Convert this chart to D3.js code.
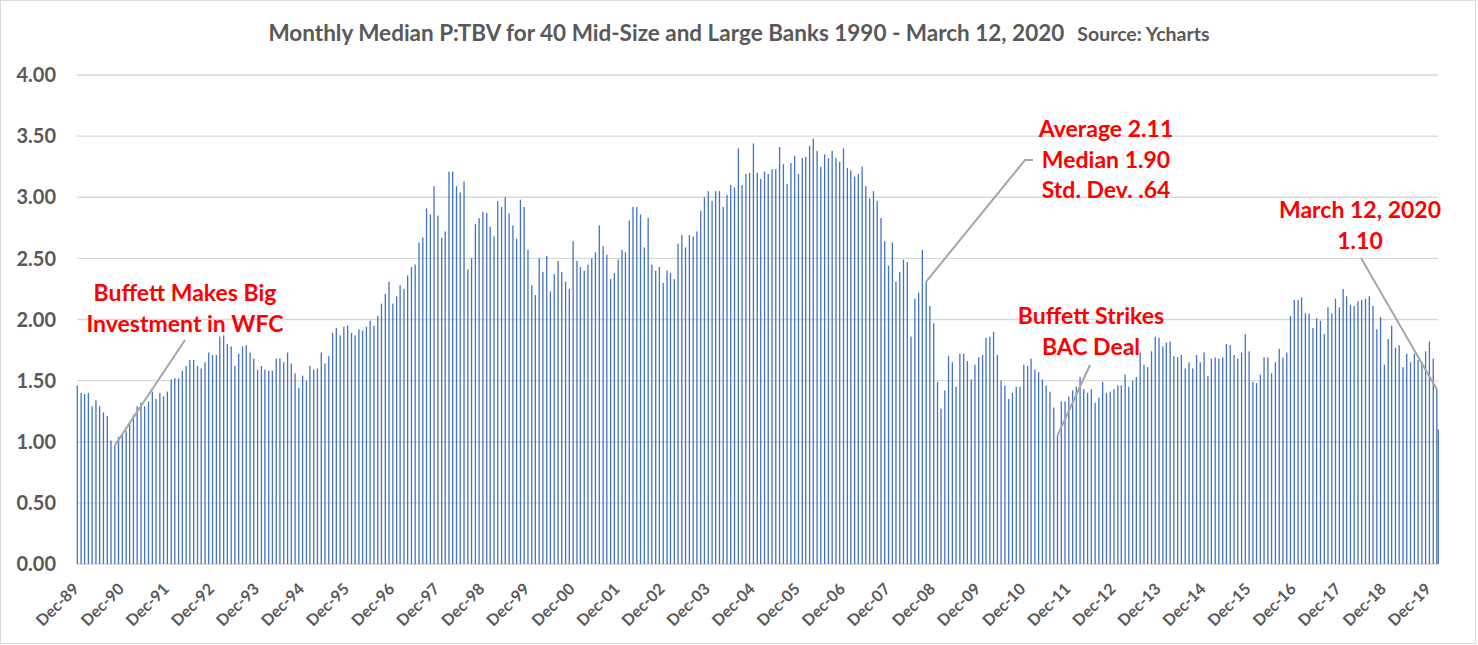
<!DOCTYPE html>
<html>
<head>
<meta charset="utf-8">
<script src="https://cdnjs.cloudflare.com/ajax/libs/d3/7.8.5/d3.min.js"></script>
<style>
  body { margin: 0; background: #fff; }
  text { font-family: Lato, "Noto Sans", sans-serif; }
</style>
</head>
<body>
<script>
// monthly median P:TBV, one value per month-end from Dec-89, last point is March 12, 2020
var values = [
  1.46,1.40,1.39,1.40,1.29,1.34,1.29,1.24,1.21,1.01,0.97,1.04,
  1.06,1.09,1.16,1.22,1.29,1.32,1.29,1.33,1.41,1.35,1.40,1.37,
  1.41,1.51,1.52,1.52,1.58,1.62,1.67,1.67,1.62,1.60,1.65,1.73,
  1.71,1.71,1.86,1.87,1.80,1.78,1.62,1.72,1.78,1.79,1.73,1.68,
  1.59,1.62,1.59,1.58,1.58,1.68,1.68,1.65,1.73,1.64,1.56,1.44,
  1.54,1.50,1.62,1.59,1.60,1.73,1.64,1.70,1.89,1.93,1.87,1.94,
  1.95,1.89,1.87,1.92,1.91,1.94,1.99,1.95,2.03,2.13,2.21,2.31,
  2.13,2.19,2.28,2.25,2.36,2.43,2.45,2.63,2.67,2.91,2.86,3.09,
  2.85,2.67,2.72,3.21,3.21,3.09,3.04,3.13,2.41,2.50,2.78,2.83,
  2.88,2.87,2.76,2.68,2.97,2.92,3.00,2.87,2.77,2.66,2.98,2.92,
  2.57,2.28,2.20,2.50,2.39,2.52,2.23,2.37,2.48,2.39,2.31,2.25,
  2.64,2.48,2.43,2.40,2.45,2.50,2.55,2.77,2.60,2.53,2.33,2.38,
  2.49,2.57,2.55,2.81,2.92,2.92,2.86,2.59,2.83,2.45,2.40,2.43,
  2.30,2.40,2.38,2.33,2.62,2.69,2.59,2.69,2.68,2.72,2.89,3.00,
  3.05,2.97,3.05,3.05,2.92,3.02,3.10,3.08,3.40,3.10,3.19,3.20,
  3.44,3.20,3.15,3.21,3.19,3.23,3.23,3.41,3.27,3.11,3.28,3.34,
  3.19,3.32,3.33,3.42,3.48,3.38,3.25,3.35,3.32,3.38,3.32,3.29,
  3.40,3.24,3.22,3.17,3.19,3.25,3.09,2.99,3.05,2.97,2.83,2.64,
  2.44,2.63,2.31,2.39,2.49,2.47,1.86,2.17,2.22,2.57,2.31,2.11,
  1.97,1.49,1.27,1.42,1.70,1.65,1.45,1.72,1.72,1.66,1.51,1.63,
  1.69,1.71,1.85,1.86,1.90,1.71,1.50,1.46,1.35,1.40,1.45,1.45,
  1.63,1.62,1.68,1.59,1.57,1.51,1.46,1.41,1.28,1.05,1.33,1.33,
  1.37,1.42,1.45,1.53,1.43,1.40,1.43,1.32,1.36,1.49,1.40,1.41,
  1.43,1.46,1.46,1.55,1.45,1.50,1.53,1.73,1.63,1.61,1.74,1.86,
  1.85,1.78,1.81,1.82,1.70,1.69,1.71,1.60,1.65,1.60,1.71,1.65,
  1.73,1.54,1.68,1.69,1.68,1.69,1.80,1.79,1.71,1.68,1.73,1.88,
  1.74,1.49,1.48,1.55,1.69,1.69,1.56,1.65,1.76,1.69,1.73,2.03,
  2.16,2.16,2.18,2.05,2.05,1.93,2.01,1.99,1.88,2.10,2.05,2.17,
  2.10,2.25,2.19,2.12,2.11,2.15,2.16,2.17,2.19,2.11,1.92,2.02,
  1.63,1.84,1.95,1.77,1.79,1.61,1.72,1.65,1.72,1.67,1.65,1.74,
  1.82,1.68,1.43,1.10
];

var firstMonthEnd = "1989-12-31";
var lastMonthEnd = "2020-02-29";
var lastDay = "2020-03-12";

var tickLabels = ["Dec-89","Dec-90","Dec-91","Dec-92","Dec-93","Dec-94","Dec-95","Dec-96",
  "Dec-97","Dec-98","Dec-99","Dec-00","Dec-01","Dec-02","Dec-03","Dec-04","Dec-05","Dec-06",
  "Dec-07","Dec-08","Dec-09","Dec-10","Dec-11","Dec-12","Dec-13","Dec-14","Dec-15","Dec-16",
  "Dec-17","Dec-18","Dec-19"];

var yTicks = [0, 0.5, 1, 1.5, 2, 2.5, 3, 3.5, 4];

// notes: which bar the leader line points to
var notes = [
  {lines: ["Buffett Makes Big", "Investment in WFC"], bar: 10, tx: 185, ty: 301, from: [185, 340]},
  {lines: ["Average 2.11", "Median 1.90", "Std. Dev. .64"], bar: 226, tx: 1106, ty: 137, from: [1025, 160], elbow: [1033, 160]},
  {lines: ["Buffett Strikes", "BAC Deal"], bar: 261, tx: 1091, ty: 324, from: [1090, 365]},
  {lines: ["March 12, 2020", "1.10"], bar: 362, tx: 1360, ty: 218, from: [1361, 258]}
];

var width = 1478,
    height = 645;

var svg = d3.select("body").append("svg")
    .attr("width", width)
    .attr("height", height);

var parse = d3.utcParse("%Y-%m-%d");

// month-end dates: day before each month start
var dates = d3.utcMonth.range(d3.utcDay.offset(parse(firstMonthEnd), 1), d3.utcDay.offset(parse(lastMonthEnd), 2))
    .map(function(d){ return d3.utcDay.offset(d, -1); });
dates.push(parse(lastDay));

var data = values.map(function(v, i){ return {date: dates[i], value: v}; });

var x = d3.scaleUtc()
    .domain([dates[0], dates[dates.length - 1]])
    .range([77.3, 1438.3]);

var y = d3.scaleLinear()
    .domain([0, 4])
    .range([564, 75]);

svg.append("rect")
    .attr("x", 0.5).attr("y", 0.5)
    .attr("width", 1475).attr("height", 643)
    .attr("fill", "#fff")
    .attr("stroke", "#d9d9d9");

// gridlines
svg.append("g").selectAll("line")
    .data(yTicks).enter()
    .append("line")
    .attr("x1", 77).attr("x2", 1438)
    .attr("y1", function(d){ return y(d); })
    .attr("y2", function(d){ return y(d); })
    .attr("stroke", "#d9d9d9")
    .attr("stroke-width", 1.3);

svg.append("g").selectAll("text")
    .data(yTicks).enter()
    .append("text")
    .attr("x", 56)
    .attr("y", function(d){ return y(d); })
    .attr("dy", "0.36em")
    .attr("text-anchor", "end")
    .attr("fill", "#595959")
    .style("font-size", "20px")
    .style("font-weight", "bold")
    .text(function(d){ return d3.format(".2f")(d); });

// bars
svg.append("g").selectAll("rect")
    .data(data).enter()
    .append("rect")
    .attr("x", function(d){ return x(d.date) - 0.65; })
    .attr("width", 1.3)
    .attr("y", function(d){ return y(d.value); })
    .attr("height", function(d){ return y(0) - y(d.value); })
    .attr("fill", "#4472c4");

// x labels, every December
svg.append("g").selectAll("text")
    .data(tickLabels).enter()
    .append("text")
    .attr("transform", function(d, i){ return "translate(" + (x(dates[i * 12]) + 2.7) + ",590) rotate(-45)"; })
    .attr("text-anchor", "end")
    .attr("fill", "#595959")
    .style("font-size", "16px")
    .style("font-weight", "bold")
    .text(function(d){ return d; });

// title
var title = svg.append("text")
    .attr("x", 739)
    .attr("y", 41)
    .attr("text-anchor", "middle")
    .attr("fill", "#595959")
    .style("font-weight", "bold");
title.append("tspan")
    .style("font-size", "22.5px")
    .text("Monthly Median P:TBV for 40 Mid-Size and Large Banks 1990 - March 12, 2020");
title.append("tspan")
    .attr("dx", 13)
    .style("font-size", "19.5px")
    .text("Source: Ycharts");

// leader lines
svg.append("g").selectAll("path")
    .data(notes).enter()
    .append("path")
    .attr("d", function(d){
      var pts = [[x(dates[d.bar]), y(values[d.bar])], d.from];
      if (d.elbow) pts.push(d.elbow);
      return d3.line()(pts);
    })
    .attr("fill", "none")
    .attr("stroke", "#a6a6a6")
    .attr("stroke-width", 2);

notes.forEach(function(n){
  var t = svg.append("text")
      .attr("text-anchor", "middle")
      .attr("fill", "#ff0000")
      .style("font-size", "23px")
      .style("font-weight", "bold");
  n.lines.forEach(function(s, i){
    t.append("tspan")
        .attr("x", n.tx)
        .attr("y", n.ty + i * 30.5)
        .text(s);
  });
});
</script>
</body>
</html>
